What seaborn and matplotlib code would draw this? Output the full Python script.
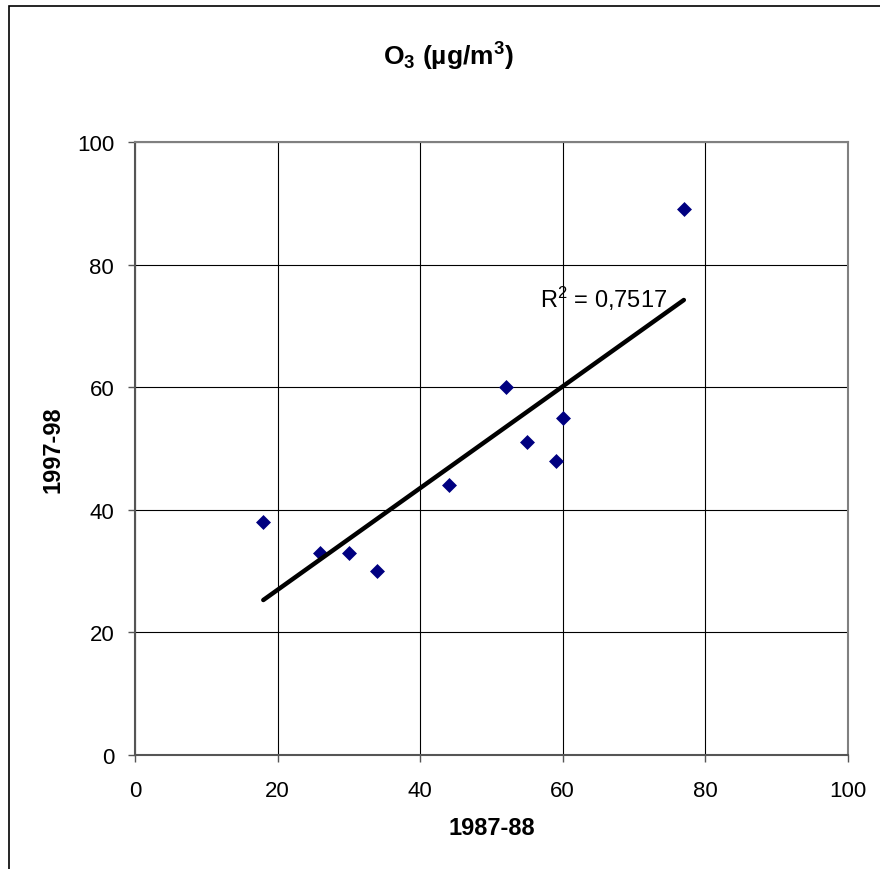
import matplotlib.pyplot as plt
import matplotlib
import seaborn as sns
import pandas as pd
from matplotlib.patches import Rectangle

# valores
x_8788 = [18, 26, 30, 34, 44, 52, 55, 59, 60, 77]
y_9798 = [38, 33, 33, 30, 44, 60, 51, 48, 55, 89]
ticks = [0, 20, 40, 60, 80, 100]
r2_texto = 'R$^2$ = 0,7517'

sns.set_style('white')
matplotlib.rcParams['font.family'] = ['Liberation Sans', 'DejaVu Sans']
matplotlib.rcParams['text.color'] = 'black'
matplotlib.rcParams['axes.labelcolor'] = 'black'
matplotlib.rcParams['xtick.color'] = 'black'
matplotlib.rcParams['ytick.color'] = 'black'
matplotlib.rcParams['mathtext.fontset'] = 'custom'
matplotlib.rcParams['mathtext.rm'] = 'Liberation Sans'
matplotlib.rcParams['mathtext.bf'] = 'Liberation Sans:bold'
matplotlib.rcParams['mathtext.default'] = 'rm'

df = pd.DataFrame({'x': x_8788, 'y': y_9798})

fig = plt.figure(figsize=(8.8, 8.7), dpi=100)
ax = fig.add_axes([0.1534, 0.131, 0.81, 0.7046])

sns.regplot(data=df, x='x', y='y', ax=ax, ci=None, truncate=True,
            marker='D', color='#000080',
            scatter_kws={'s': 58, 'linewidths': 0, 'alpha': 1, 'zorder': 3},
            line_kws={'color': 'black', 'linewidth': 3.2, 'zorder': 4})

ax.set_xlim(0, 100)
ax.set_ylim(0, 100)
ax.set_xticks(ticks)
ax.set_yticks(ticks)
ax.grid(True, color='black', linewidth=0.8)
ax.set_axisbelow(True)
for s in ax.spines.values():
    s.set_color('#808080')
    s.set_linewidth(1.5)
ax.spines['left'].set_color('#555555')
ax.spines['bottom'].set_color('#555555')
ax.tick_params(axis='both', direction='out', length=5, width=1, color='#555555',
               labelsize=16, left=True, bottom=True)
ax.tick_params(axis='x', pad=13)
ax.tick_params(axis='y', pad=10)

ax.set_xlabel('1987-88', fontsize=17, fontweight='bold', labelpad=11)
ax.set_ylabel('1997-98', fontsize=17, fontweight='bold', labelpad=9)
fig.text(0.51, 0.935, r'O$\mathbf{_3}$ (µg/m$\mathbf{^3}$)', ha='center', va='center',
         fontsize=19, fontweight='bold')

ax.text(56.8, 74.5, r2_texto, fontsize=17, ha='left', va='center', zorder=5)

fig.patches.append(Rectangle((9 / 880, -0.1), 1.2, 1.1 - 7 / 870, transform=fig.transFigure,
                             fill=False, edgecolor='black', linewidth=1.2))

plt.savefig('out.png', dpi=100)
